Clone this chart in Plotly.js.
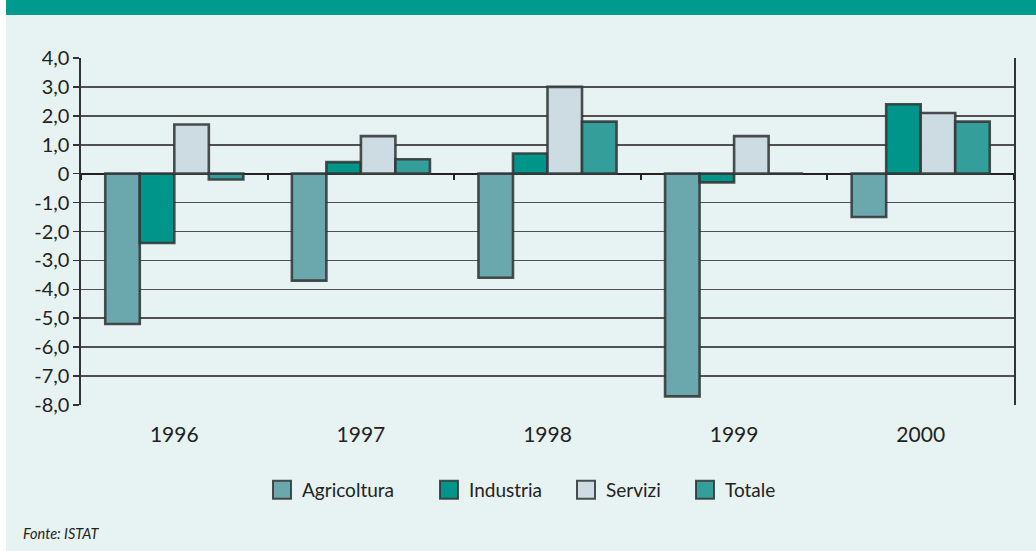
<!DOCTYPE html>
<html>
<head>
<meta charset="utf-8">
<script src="https://cdn.plot.ly/plotly-3.0.1.min.js"></script>
<style>html,body{margin:0;padding:0;background:#fff;}#chart{width:1036px;height:551px;}</style>
</head>
<body>
<div id="chart"></div>
<script>
var years = ['1996', '1997', '1998', '1999', '2000'];
var seriesNames = ['Agricoltura', 'Industria', 'Servizi', 'Totale'];
var agricoltura = [-5.2, -3.7, -3.6, -7.7, -1.5];
var industria = [-2.4, 0.4, 0.7, -0.3, 2.4];
var servizi = [1.7, 1.3, 3.0, 1.3, 2.1];
var totale = [-0.2, 0.5, 1.8, 0.0, 1.8];
var yTickVals = [4, 3, 2, 1, 0, -1, -2, -3, -4, -5, -6, -7, -8];
var yTickText = ['4,0', '3,0', '2,0', '1,0', '0', '-1,0', '-2,0', '-3,0', '-4,0', '-5,0', '-6,0', '-7,0', '-8,0'];
var source = 'Fonte: ISTAT';

var colors = ['#6aa8ae', '#00958a', '#cddbe2', '#349e9b'];
var legendWidths = [122, 92, 74, 60];
var values = [agricoltura, industria, servizi, totale];
var bg = '#e7f3f3';
var font = 'Lato, Open Sans, sans-serif';

var traces = values.map(function (v, i) {
  return {
    type: 'bar', x: years, y: v, name: seriesNames[i], legendwidth: legendWidths[i],
    marker: {color: colors[i], line: {color: 'rgba(50,55,55,0.88)', width: 2.6}},
    hoverinfo: 'x+y'
  };
});
traces.push({type: 'bar', x: years, y: [0, 0, 0, 0, 0], xaxis: 'x2', showlegend: false,
  marker: {color: 'rgba(0,0,0,0)', line: {width: 0}}, hoverinfo: 'skip'});

var layout = {
  width: 1036, height: 551,
  margin: {l: 81, r: 22, t: 58, b: 146},
  paper_bgcolor: '#ffffff',
  plot_bgcolor: bg,
  barmode: 'group', bargap: 0.26, bargroupgap: 0,
  font: {family: font, color: '#222', size: 19},
  showlegend: true,
  legend: {orientation: 'h', x: (262 - 81) / 933, xanchor: 'left', y: -0.245, yanchor: 'middle',
    font: {size: 19, color: '#222'}, bgcolor: 'rgba(0,0,0,0)', itemwidth: 30,
    traceorder: 'normal'},
  xaxis: {type: 'category', showgrid: false, zeroline: false, showline: false,
    ticks: '', ticklabelstandoff: 15, tickfont: {size: 21, color: '#222'}},
  xaxis2: {type: 'category', overlaying: 'x', matches: 'x', anchor: 'free', position: 8 / 12,
    side: 'bottom', showgrid: false, showline: false, zeroline: false, showticklabels: false,
    ticks: 'outside', tickson: 'boundaries', ticklen: 5, tickwidth: 2, tickcolor: '#222'},
  yaxis: {range: [-8, 4], tickvals: yTickVals, ticktext: yTickText, showgrid: true,
    gridcolor: '#505050', gridwidth: 1.6, zeroline: true, zerolinecolor: '#222', zerolinewidth: 2,
    showline: true, linecolor: '#333', linewidth: 1.6, mirror: true,
    ticks: 'outside', ticklen: 6, tickwidth: 1.6, tickcolor: '#333',
    tickfont: {size: 20, color: '#222'}, fixedrange: true},
  shapes: [
    {type: 'rect', xref: 'paper', yref: 'paper', x0: (6 - 81) / 933, x1: (1036 - 81) / 933,
      y0: (405 - 551) / 347, y1: (405 - 14) / 347, fillcolor: bg, line: {width: 0}, layer: 'below'},
    {type: 'rect', xref: 'paper', yref: 'paper', x0: (6 - 81) / 933, x1: (1036 - 81) / 933,
      y0: (405 - 15) / 347, y1: (405 - 0) / 347, fillcolor: '#009a8f', line: {width: 0}, layer: 'below'}
  ],
  annotations: [
    {text: '<i>' + source + '</i>', xref: 'paper', yref: 'paper', x: (21 - 81) / 933, y: (405 - 533) / 347,
      xanchor: 'left', yanchor: 'middle', showarrow: false, font: {size: 14.5, color: '#222', family: font}}
  ]
};

Plotly.newPlot('chart', traces, layout, {displayModeBar: false, staticPlot: true}).then(function (gd) {
  // enlarge legend swatches to match the reference's bigger squares
  gd.querySelectorAll('.legend .legendpoints path').forEach(function (p) {
    p.setAttribute('d', 'M9,9H-9V-9H9Z');
    p.style.strokeWidth = '2px';
  });
});
</script>
</body>
</html>
